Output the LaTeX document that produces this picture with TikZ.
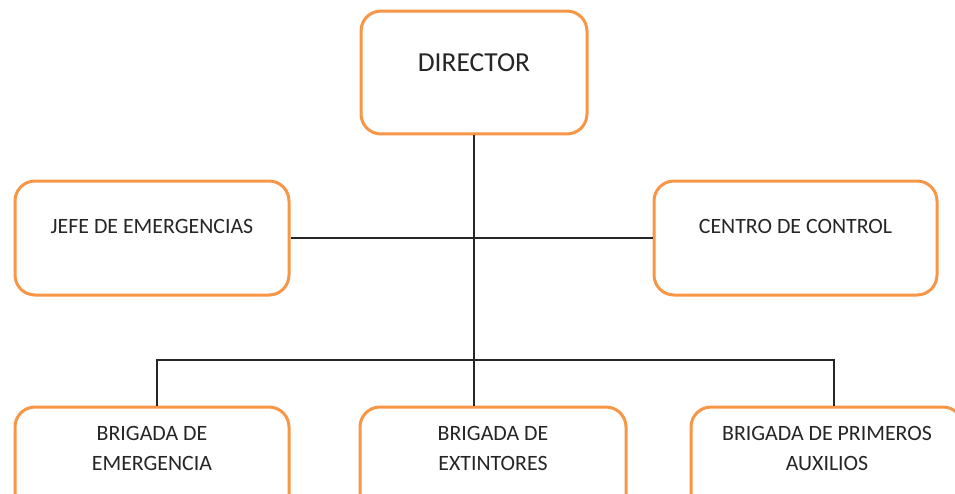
\documentclass[tikz,border=0pt]{standalone}
\usepackage{fontspec}
\setmainfont{Carlito}
\usetikzlibrary{positioning}
\definecolor{naranja}{HTML}{F79646}
\definecolor{texto}{HTML}{262626}
\tikzset{
	caja/.style={draw=naranja, line width=2.25pt, rounded corners=15pt, fill=white, inner sep=0pt, align=center, text=texto, font=\fontsize{16.4}{22.5}\selectfont},
	linea/.style={line width=0.8pt, color=black!85},
}

\begin{document}
\begin{tikzpicture}[x=0.75pt, y=-0.75pt]
		%%%%% START %%%%%
		\useasboundingbox (0, 0) rectangle (955, 493);
		\clip (0, 0) rectangle (955, 493);
		
		\node[caja, minimum width=169.5pt, text height=45.5pt, text depth=46.7pt, font=\fontsize{20.6}{24}\selectfont] (director) at (474, 72.5) {DIRECTOR};
		
		\node[caja, minimum width=205.5pt, text height=39pt, text depth=46.5pt] (jefe) at (152, 238) {JEFE DE EMERGENCIAS};
		\node[caja, minimum width=212.25pt, text height=39pt, text depth=46.5pt] (centro) at (795.5, 238) {CENTRO DE CONTROL};
		
		\node[caja, minimum width=205.5pt, text height=47.8pt, text depth=37.7pt] (brigada1) at (152, 464) {BRIGADA DE\\EMERGENCIA};
		\node[caja, minimum width=199.5pt, text height=47.8pt, text depth=37.7pt] (brigada2) at (493, 464) {BRIGADA DE\\EXTINTORES};
		\node[caja, minimum width=204pt, text height=47.8pt, text depth=37.7pt] (brigada3) at (827, 464) {BRIGADA DE PRIMEROS\\AUXILIOS};
		
		\coordinate (bus) at (474, 360);
		
		\draw[linea] (director.south) -- (director.south |- brigada2.north);
		\draw[linea] (jefe) -- (centro);
		\draw[linea] ([xshift=3.75pt]brigada1.north) |- (bus) -| ([xshift=5.25pt]brigada3.north);
		
		%%%%% END %%%%%
\end{tikzpicture}
\end{document}
